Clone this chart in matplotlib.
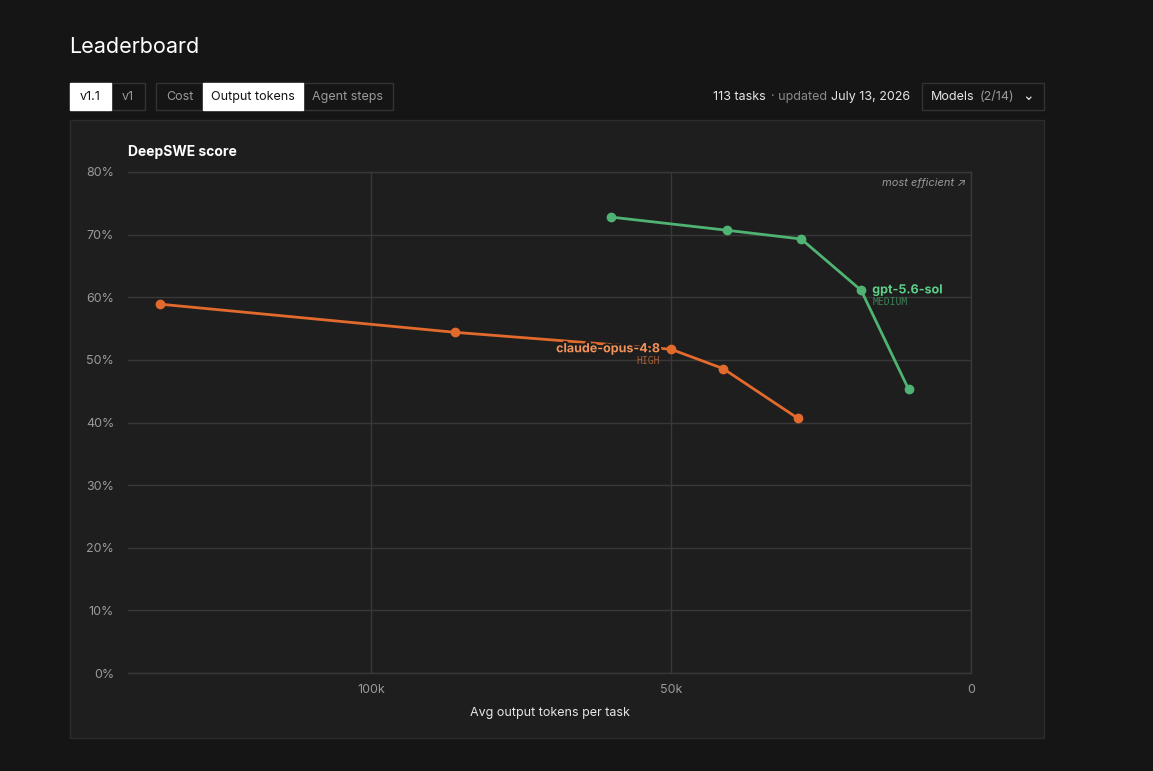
import matplotlib
matplotlib.use("Agg")
import matplotlib.pyplot as plt
import matplotlib.patheffects as pe
from matplotlib.patches import Rectangle
from matplotlib.ticker import FuncFormatter

# ======================================
# Data
# ======================================

claude_tokens = [135.2, 86.0, 50.0, 41.3, 28.9]      # k tokens
claude_score = [58.9, 54.4, 51.7, 48.6, 40.7]         # %
gpt_tokens = [60.0, 40.7, 28.3, 18.3, 10.4]
gpt_score = [72.8, 70.7, 69.3, 61.1, 45.3]

claude_name, claude_tier, claude_label_idx = "claude-opus-4.8", "HIGH", 2
gpt_name, gpt_tier, gpt_label_idx = "gpt-5.6-sol", "MEDIUM", 3

y_ticks = [0, 10, 20, 30, 40, 50, 60, 70, 80]
x_ticks = [0, 50, 100]

# ======================================
# Style
# ======================================

plt.rcParams['font.family'] = ['Inter', 'DejaVu Sans']
PAGE = '#151515'
CARD = '#1e1e1e'
GRID = '#383838'
ORANGE = '#e26a2c'
GREEN = '#4fb373'

W, H = 1153, 771
fig = plt.figure(figsize=(W / 100, H / 100), dpi=100, facecolor=PAGE)


def px(x, y):
    return x / W, 1 - y / H


def box(x0, y0, x1, y1, face, edge):
    fig.patches.append(Rectangle((x0 / W, 1 - y1 / H), (x1 - x0) / W, (y1 - y0) / H,
                                 transform=fig.transFigure, facecolor=face,
                                 edgecolor=edge, linewidth=1, zorder=0))


# ======================================
# Header and controls
# ======================================

fig.text(*px(69, 47), "Leaderboard", color='white', fontsize=15.5, va='center', ha='left')

buttons = [
    (70, 111, "v1.1", True), (111, 145, "v1", False),
    (156, 203, "Cost", False), (203, 303, "Output tokens", True), (303, 393, "Agent steps", False),
]
box(70, 83, 145, 110, PAGE, '#333333')
box(156, 83, 393, 110, PAGE, '#333333')
for x0, x1, label, active in buttons:
    if active:
        box(x0, 83, x1, 110, 'white', 'white')
    fig.text(*px((x0 + x1) / 2, 97), label, fontsize=9,
             color='#111111' if active else '#9a9a9a', ha='center', va='center')

fig.text(*px(910, 97), "July 13, 2026", color='#e6e6e6', fontsize=9, ha='right', va='center')
fig.text(*px(827, 97), "· updated", color='#8a8a8a', fontsize=9, ha='right', va='center')
fig.text(*px(766, 97), "113 tasks", color='#e6e6e6', fontsize=9, ha='right', va='center')
box(922, 83, 1044, 110, PAGE, '#333333')
fig.text(*px(931, 97), "Models", color='#e6e6e6', fontsize=9, ha='left', va='center')
fig.text(*px(980, 97), "(2/14)", color='#9a9a9a', fontsize=9, ha='left', va='center')
fig.text(*px(1028, 96), "⌄", color='#e6e6e6', fontsize=10, ha='center', va='center',
         family=['DejaVu Sans'])

# card
box(70, 120, 1044, 738, CARD, '#2c2c2c')

# ======================================
# Chart
# ======================================

ax = fig.add_axes([128 / W, 1 - 673 / H, (971 - 128) / W, (673 - 172) / H])
ax.set_zorder(2)
ax.set_facecolor(CARD)
ax.set_xlim(140.5, 0)
ax.set_ylim(0, 80)
for side, s in ax.spines.items():
    s.set_visible(side != 'left')
    s.set_color(GRID)
    s.set_linewidth(1)

ax.set_yticks(y_ticks)
ax.set_xticks(x_ticks)
ax.yaxis.set_major_formatter(FuncFormatter(lambda v, p: f"{int(v)}%"))
ax.xaxis.set_major_formatter(FuncFormatter(lambda v, p: "0" if v == 0 else f"{int(v)}k"))
ax.tick_params(length=0, colors='#9a9a9a', labelsize=9)
ax.tick_params(axis='y', pad=10)
ax.tick_params(axis='x', pad=8)
ax.grid(True, color=GRID, linewidth=1)
ax.set_axisbelow(True)

ax.set_xlabel("Avg output tokens per task", color='#e6e6e6', fontsize=9, labelpad=8)

halo = [pe.withStroke(linewidth=3, foreground=CARD)]

for xs, ys, color, name, tier, idx, side in [
    (claude_tokens, claude_score, ORANGE, claude_name, claude_tier, claude_label_idx, 'right'),
    (gpt_tokens, gpt_score, GREEN, gpt_name, gpt_tier, gpt_label_idx, 'left'),
]:
    ax.plot(xs, ys, color=color, linewidth=2, marker='o', markersize=6, zorder=3)
    dx = -11 if side == 'right' else 11
    ax.annotate(name, (xs[idx], ys[idx]), xytext=(dx, 0), textcoords='offset pixels',
                ha=side, va='center', fontsize=9, fontweight='bold',
                color='#f0925a' if color == ORANGE else '#5ccf88',
                path_effects=halo, zorder=4)
    ax.annotate(tier, (xs[idx], ys[idx]), xytext=(dx, -12), textcoords='offset pixels',
                ha=side, va='center', fontsize=7, family=['DejaVu Sans Mono'],
                color='#a55e38' if color == ORANGE else '#3e7f57', zorder=4)

fig.text(*px(128, 152), "DeepSWE score", color='white', fontsize=10, fontweight='bold',
         ha='left', va='center')
fig.text(*px(966, 183), "most efficient ↗", color='#9a9a9a', fontsize=8, style='italic',
         ha='right', va='center', zorder=5)

fig.savefig('out.png', dpi=100, facecolor=PAGE)
